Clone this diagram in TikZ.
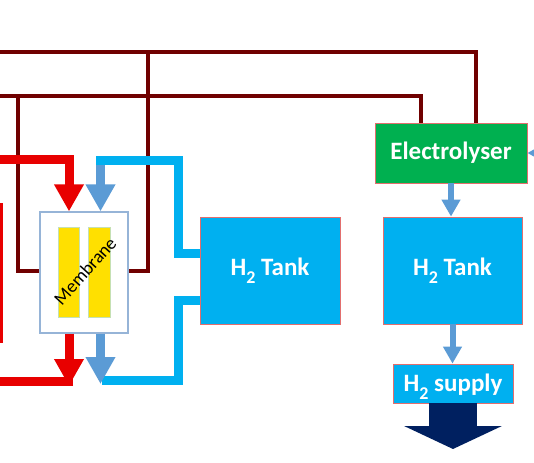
\documentclass[tikz,border=0pt]{standalone}
\usepackage{fontspec}
\setmainfont{Carlito}
\usetikzlibrary{arrows.meta}
\definecolor{wirered}{RGB}{112,0,0}
\definecolor{flowred}{RGB}{232,0,0}
\definecolor{pipeblue}{RGB}{0,176,240}
\definecolor{steelblue}{RGB}{91,155,213}
\definecolor{elecgreen}{RGB}{0,176,80}
\definecolor{navyblue}{RGB}{0,32,96}
\definecolor{edgered}{RGB}{226,110,110}
\definecolor{membedge}{RGB}{150,180,215}
\definecolor{membyellow}{RGB}{255,224,0}
\definecolor{baredge}{RGB}{197,224,180}
\newcommand{\Htwo}{H\raisebox{-8pt}{\fontsize{18}{18}\selectfont 2}}
\begin{document}
\begin{tikzpicture}[x=1pt, y=-1pt,
    wire/.style={draw=wirered, line width=4pt},
    redflow/.style={draw=flowred, line width=9pt},
    blueflow/.style={draw=pipeblue, line width=9pt},
    steelflow/.style={draw=steelblue, line width=9pt},
    thinflow/.style={draw=steelblue, line width=6pt},
    bigtip/.style={-{Triangle[width=28pt,length=27pt]}},
    smalltip/.style={-{Triangle[width=18pt,length=17pt]}},
    unit/.style={draw=edgered, line width=0.8pt, text=white, inner sep=0pt, font=\fontsize{25}{29}\selectfont\bfseries},
    bar/.style={fill=membyellow, draw=baredge, line width=0.6pt, inner sep=0pt, minimum width=21.5pt, minimum height=90pt}]
  \useasboundingbox (0,0) rectangle (534,462);
  \clip (0,0) rectangle (534,462);
  \node[unit, fill=pipeblue, minimum width=140pt, minimum height=107pt] (tankA) at (270,270.5) {\Htwo{} Tank};
  \node[unit, fill=elecgreen, minimum width=152pt, minimum height=60pt] (elec) at (451,153) {Electrolyser};
  \node[unit, fill=pipeblue, minimum width=139pt, minimum height=107pt] (tankB) at (452.5,270.5) {\Htwo{} Tank};
  \node[unit, fill=pipeblue, minimum width=120pt, minimum height=39pt, text height=16pt, text depth=0pt] (supply) at (453,383.5) {\Htwo{} supply};
  \node[draw=membedge, line width=1.2pt, fill=white, minimum width=88pt, minimum height=121pt] (memb) at (84,272.5) {};
  \node[bar] (barL) at (69,272) {};
  \node[bar] (barR) at (99.5,272) {};
  \node[rotate=48, font=\fontsize{18.5}{20}\selectfont] (membtxt) at (85,271) {Membrane};
  \coordinate (wtop) at (-5,52);
  \coordinate (wmid) at (-5,96);
  \coordinate (jtop) at (148,52);
  \coordinate (jmid) at (18,96);
  \draw[wire] (wtop) -| ([xshift=25pt]elec.north);
  \draw[wire] (wmid) -| ([xshift=-30pt]elec.north);
  \draw[wire] (jtop) |- ([yshift=2pt]memb.east);
  \draw[wire] (jmid) |- ([yshift=2pt]memb.west);
  \fill[flowred] (-5,203) rectangle (3,343);
  \coordinate (redin) at (-5,160);
  \coordinate (redout) at (-5,381);
  \coordinate (redjoin) at (73,381);
  \coordinate (redtip) at (69,386);
  \draw[redflow, bigtip] (redin) -| ([xshift=-15pt]memb.north);
  \draw[redflow, bigtip] ([xshift=-15pt]memb.south) -- (redtip);
  \draw[redflow] (redjoin) -- (redout);
  \coordinate (bendA) at (178,160.5);
  \coordinate (bendB) at (96,160.5);
  \coordinate (bendC) at (178,380.5);
  \coordinate (bendD) at (102,380.5);
  \coordinate (blueinTop) at (100.5,165);
  \coordinate (bluetip) at (100.5,384);
  \draw[blueflow] ([yshift=17.5pt]tankA.west) -| (bendA) -- (bendB);
  \draw[blueflow] ([yshift=-29.5pt]tankA.west) -| (bendC) -- (bendD);
  \draw[steelflow, bigtip] (blueinTop) -- ([xshift=16.5pt]memb.north);
  \draw[steelflow, bigtip] ([xshift=16.5pt]memb.south) -- (bluetip);
  \draw[thinflow, smalltip] (elec.south) -- (elec.south |- tankB.north);
  \draw[thinflow, smalltip] (tankB.south) -- (tankB.south |- supply.north);
  \coordinate (feed) at (560,153);
  \draw[thinflow, smalltip] (feed) -- (elec.east);
  \coordinate (out) at (453,449);
  \draw[draw=navyblue, line width=48pt, -{Triangle[width=97pt,length=23pt]}] (supply.south) -- (out);
\end{tikzpicture}
\end{document}
